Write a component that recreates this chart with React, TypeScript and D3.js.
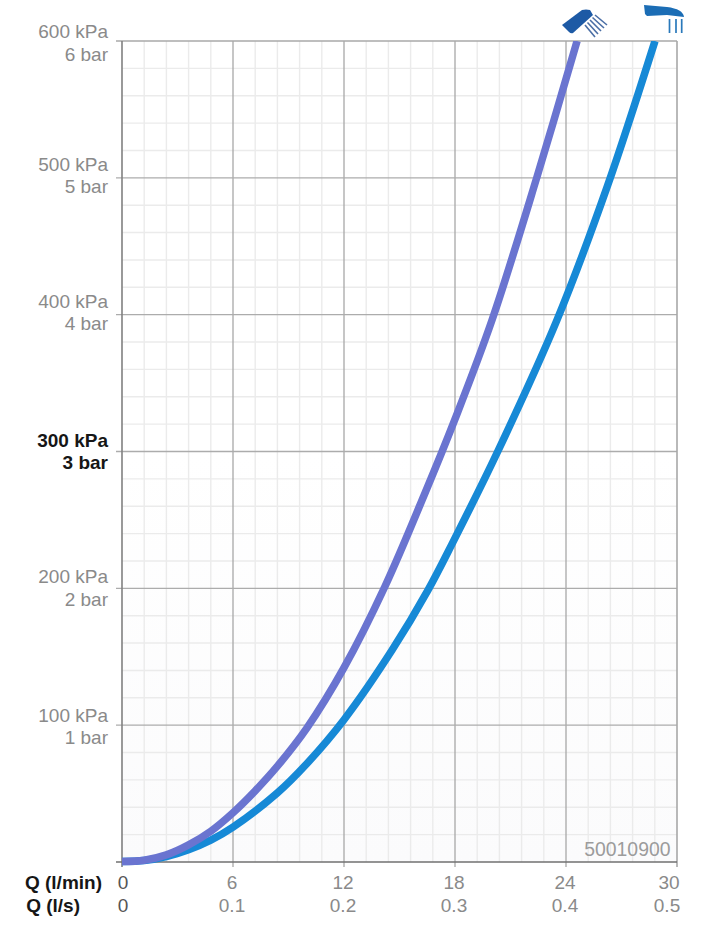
import React from "react";
import * as d3 from "d3";

const W = 715, H = 931;
const lminTicks = [0, 6, 12, 18, 24, 30];
const lsLabels = ["0", "0.1", "0.2", "0.3", "0.4", "0.5"];
const kpaTicks = [100, 200, 300, 400, 500, 600];
const minorXValues = [1.2, 2.4, 3.6, 4.8, 7.2, 8.4, 9.6, 10.8, 13.2, 14.4, 15.6, 16.8, 19.2, 20.4, 21.6, 22.8, 25.2, 26.4, 27.6, 28.8];
const minorYValues = [20, 40, 60, 80, 120, 140, 160, 180, 220, 240, 260, 280, 320, 340, 360, 380, 420, 440, 460, 480, 520, 540, 560, 580];

const handShowerQ = [0, 1.2, 2.4, 3.6, 4.8, 6, 7.2, 8.4, 10, 12, 14.2, 16.38, 18, 20, 22.43, 24.6];
const handShowerP = [0.4, 1.3, 5.2, 12.5, 22.5, 36, 52, 70, 98, 142, 201, 269.7, 323.7, 396, 500.6, 600];
const overheadQ = [0, 1.2, 2.4, 3.6, 4.8, 6, 8.4, 10, 12, 14.6, 16.54, 17.89, 20.27, 23.51, 26.22, 28.81];
const overheadP = [0.4, 1.1, 4, 9, 16, 25.5, 50.5, 72, 104, 154.9, 198.7, 233.8, 298.9, 396, 493.3, 600];

const x = d3.scaleLinear().domain([0, 30]).range([122, 677]);
const y = d3.scaleLinear().domain([0, 600]).range([862, 41]);
const line = d3.line<[number, number]>().x(d => x(d[0])).y(d => y(d[1])).curve(d3.curveCatmullRom.alpha(0.5));
const zip = (a: number[], b: number[]) => a.map((v, i) => [v, b[i]] as [number, number]);

const font = "'Liberation Sans', Arial, sans-serif";
const grey = "#8a8a8a";
const FS = 19;
// The kPa labels sit at slightly uneven distances from their gridlines in the reference.
const kpaLabelDy: Record<number, [number, number]> = {
  100: [-2.7, 19.3], 200: [-5, 17.4], 300: [-4.2, 17.8], 400: [-6.3, 15.7], 500: [-7, 15.2], 600: [-2.7, 19.7],
};

export default function App() {
  return (
    <svg width={W} height={H} style={{ position: "absolute", left: 0, top: 0, background: "#fff" }} fontFamily={font}>
      <defs>
        <linearGradient id="bg" x1="0" y1="0" x2="0" y2="1">
          <stop offset="0" stopColor="#ffffff" />
          <stop offset="1" stopColor="#fbfbfc" />
        </linearGradient>
        <clipPath id="plot">
          <rect x={x(0) - 4} y={y(600)} width={x(30) - x(0) + 8} height={y(0) - y(600) + 8} />
        </clipPath>
      </defs>
      <rect x={x(0)} y={y(300)} width={x(30) - x(0)} height={y(0) - y(300)} fill="url(#bg)" />
      {minorXValues.map(v => <line key={v} x1={x(v)} x2={x(v)} y1={y(0)} y2={y(600)} stroke="#ebebeb" strokeWidth={1.4} />)}
      {minorYValues.map(v => <line key={v} x1={x(0)} x2={x(30)} y1={y(v)} y2={y(v)} stroke="#ebebeb" strokeWidth={1.4} />)}
      {lminTicks.slice(1, 5).map(v => <line key={v} x1={x(v)} x2={x(v)} y1={y(0) + 5} y2={y(600)} stroke="#a8a8a8" strokeWidth={1.3} />)}
      {kpaTicks.slice(0, 5).map(v => <line key={v} x1={x(0) - 6} x2={x(30)} y1={y(v)} y2={y(v)} stroke="#acacac" strokeWidth={1.3} />)}
      <line x1={x(0) - 6} x2={x(30)} y1={y(600)} y2={y(600)} stroke="#a8a8a8" strokeWidth={1.6} />
      <line x1={x(30)} x2={x(30)} y1={y(600)} y2={y(0) + 5} stroke="#a8a8a8" strokeWidth={1.6} />
      <line x1={x(0)} x2={x(0)} y1={y(600)} y2={y(0) + 5} stroke="#808080" strokeWidth={1.6} />
      <line x1={x(0) - 6} x2={x(30)} y1={y(0)} y2={y(0)} stroke="#707070" strokeWidth={1.4} />
      <text x={670.5} y={856} textAnchor="end" fontSize={19.4} fill="#9c9c9c">50010900</text>
      <g clipPath="url(#plot)">
        <path d={line(zip(overheadQ, overheadP)) ?? ""} fill="none" stroke="#1689d6" strokeWidth={7.5} />
        <path d={line(zip(handShowerQ, handShowerP)) ?? ""} fill="none" stroke="#6a74d0" strokeWidth={7.5} />
      </g>
      {kpaTicks.map(v => {
        const bold = v === 300;
        return (
          <g key={v} textAnchor="end" fontSize={FS} fill={bold ? "#161616" : grey} fontWeight={bold ? 700 : 400}>
            <text x={108} y={y(v) + kpaLabelDy[v][0]}>{v} kPa</text>
            <text x={108} y={y(v) + kpaLabelDy[v][1]}>{v / 100} bar</text>
          </g>
        );
      })}
      {lminTicks.map((v, i) => (
        <g key={v} textAnchor="middle" fontSize={FS} fill={i === 0 ? "#555" : grey}>
          <text x={i === 0 ? 123 : i === 5 ? 669 : x(v) - 1} y={889}>{v}</text>
          <text x={i === 0 ? 123 : i === 5 ? 667 : x(v) - 1} y={912}>{lsLabels[i]}</text>
        </g>
      ))}
      <g fontSize={FS} fontWeight={700} fill="#161616" textAnchor="end">
        <text x={102} y={889}>Q (l/min)</text>
        <text x={80} y={912}>Q (l/s)</text>
      </g>
      <g>
        <path d="M562 25 L582 10 Q586 9 590 10 L593 15 L573 33 Q571 34 569 32 Z" fill="#1d5aa5" />
        {[0, 1, 2, 3, 4].map(i => (
          <line key={i} x1={595 - 2.5 * i} y1={15 + 2.5 * i} x2={607 - 3 * i} y2={25 + 3 * i} stroke="#4a6ea5" strokeWidth={1.6} />
        ))}
        <path d="M644 5 L667 7 Q683 9 684 17 L667 15 L647 16 L645 14 Z" fill="#1b6db5" />
        {[669.5, 676, 681.7].map(px => <line key={px} x1={px} x2={px} y1={19} y2={33} stroke="#2a79bb" strokeWidth={1.7} />)}
      </g>
    </svg>
  );
}
